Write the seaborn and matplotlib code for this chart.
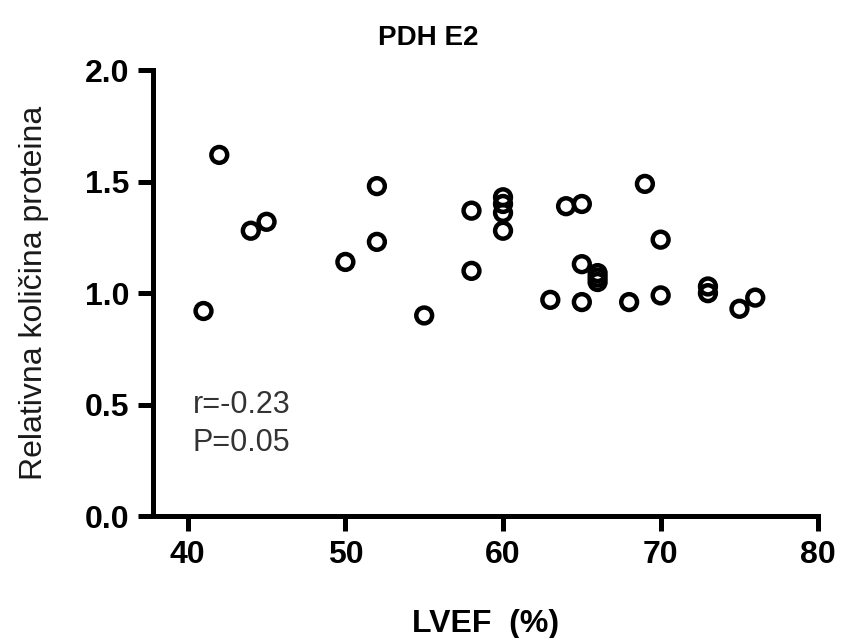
import numpy as np
import pandas as pd
import seaborn as sns
import matplotlib.pyplot as plt

# values
lvef = [41, 42, 44, 45, 50, 52, 52, 55, 58, 58,
        60, 60, 60, 60, 63, 64, 65, 65, 65,
        66, 66, 66, 68, 69, 70, 70, 73, 73, 75, 76]
protein = [0.92, 1.62, 1.28, 1.32, 1.14, 1.48, 1.23, 0.90, 1.37, 1.10,
           1.43, 1.40, 1.36, 1.28, 0.97, 1.39, 1.40, 1.13, 0.96,
           1.09, 1.07, 1.05, 0.96, 1.49, 1.24, 0.99, 1.03, 1.00, 0.93, 0.98]
x_ticks = [40, 50, 60, 70, 80]
y_ticks = [0.0, 0.5, 1.0, 1.5, 2.0]

df = pd.DataFrame({'LVEF': lvef, 'protein': protein})

sns.set_style('ticks')
plt.rcParams['font.family'] = ['Liberation Sans', 'DejaVu Sans']

fig = plt.figure(figsize=(8.41, 6.38), dpi=100)
ax = fig.add_axes([0.182, 0.191, 0.791, 0.699])

sns.scatterplot(data=df, x='LVEF', y='protein', ax=ax, s=130,
                facecolor='none', edgecolor='black', linewidth=3.2,
                marker='o', clip_on=False, zorder=3)

ax.set_xlim(37.8, 80)
ax.set_ylim(0, 2.0)
ax.set_xticks(x_ticks)
ax.set_yticks(y_ticks)
ax.set_xticklabels([str(t) for t in x_ticks])
ax.set_yticklabels([f'{t:.1f}' for t in y_ticks])

for side in ['top', 'right']:
    ax.spines[side].set_visible(False)
for side in ['left', 'bottom']:
    ax.spines[side].set_linewidth(3.6)
    ax.spines[side].set_color('black')
    ax.spines[side].set_capstyle('projecting')
ax.tick_params(width=3.6, length=11, labelsize=23, colors='black', pad=6)
for lab in ax.get_xticklabels() + ax.get_yticklabels():
    lab.set_fontweight('bold')

ax.set_xlabel('LVEF  (%)', fontsize=23, fontweight='bold', color='black', labelpad=28)
ax.set_ylabel('Relativna količina proteina', fontsize=23, color='#1a1a1a', labelpad=26)
fig.text(0.509, 0.94, 'PDH E2', fontsize=20, fontweight='bold', color='black',
         ha='center', va='center')

ax.text(40.3, 0.50, 'r=-0.23', fontsize=22, color='#333333', va='center')
ax.text(40.3, 0.33, 'P=0.05', fontsize=22, color='#333333', va='center')

fig.savefig('out.png', dpi=100)
